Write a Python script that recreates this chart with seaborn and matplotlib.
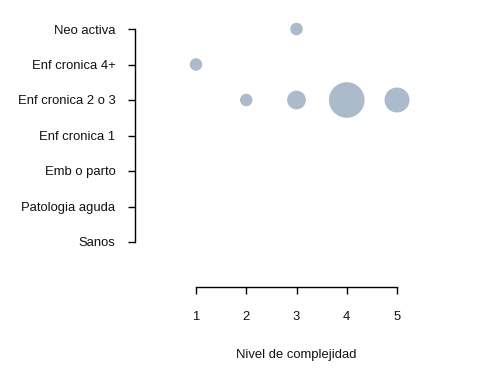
import matplotlib
matplotlib.use("Agg")
import matplotlib.pyplot as plt
import seaborn as sns
import pandas as pd
import numpy as np

categories = ["Sanos", "Patologia aguda", "Emb o parto", "Enf cronica 1",
              "Enf cronica 2 o 3", "Enf cronica 4+", "Neo activa"]
x_ticks = [1, 2, 3, 4, 5]
point_nivel = [3, 1, 2, 3, 4, 5]
point_cat = ["Neo activa", "Enf cronica 4+", "Enf cronica 2 o 3",
             "Enf cronica 2 o 3", "Enf cronica 2 o 3", "Enf cronica 2 o 3"]
point_cex = [1.0, 1.0, 1.0, 1.5, 2.85, 2.0]

sns.set_style("white")
plt.rcParams["font.family"] = ["Liberation Sans", "DejaVu Sans"]

df = pd.DataFrame({"nivel": point_nivel,
                   "cat": [categories.index(c) for c in point_cat],
                   "cex": point_cex})

fig = plt.figure(figsize=(4.8, 3.83), dpi=100)
L, R, T, B = 135, 420, 15, 287
ax = fig.add_axes([L / 480, 1 - B / 383, (R - L) / 480, (B - T) / 383])

px_per_x = (397 - 196) / 4
px_per_y = (242 - 29) / 6
ax.set_xlim(1 - (196 - L) / px_per_x, 5 + (R - 397) / px_per_x)
ax.set_ylim(-(B - 242) / px_per_y, (242 - T) / px_per_y)

areas = (np.array(df["cex"]) * 9.0) ** 2
sns.scatterplot(data=df, x="nivel", y="cat", s=areas, color="#ABBBCB",
                edgecolor="none", linewidth=0, ax=ax, legend=False, alpha=1)

ax.set_xticks(x_ticks)
ax.set_xticklabels([str(v) for v in x_ticks])
ax.set_yticks(range(len(categories)))
ax.set_yticklabels(categories)
for side in ["top", "right"]:
    ax.spines[side].set_visible(False)
ax.spines["left"].set_bounds(0, 6)
ax.spines["bottom"].set_bounds(1, 5)
for side in ["left", "bottom"]:
    ax.spines[side].set_color("black")
    ax.spines[side].set_linewidth(1.0)
ax.tick_params(axis="both", direction="out", length=5, width=1.0,
               color="black", labelsize=9.4, labelcolor="#111111")
ax.tick_params(axis="y", pad=9, left=True)
ax.tick_params(axis="x", pad=12, bottom=True)
ax.set_ylabel("")
ax.set_xlabel("Nivel de complejidad", fontsize=9.4, color="#111111")
ax.xaxis.set_label_coords((296.5 - L) / (R - L), (B - 355) / (B - T))
ax.xaxis.label.set_va("center")

fig.savefig("out.png", dpi=100)
